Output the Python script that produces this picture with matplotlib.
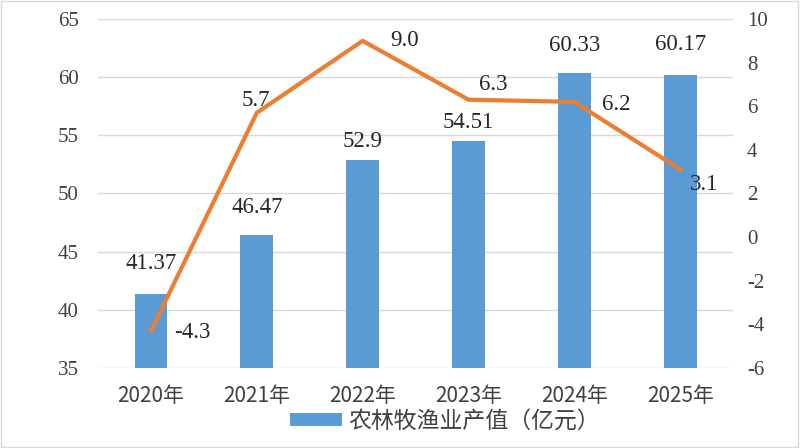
import matplotlib.pyplot as plt
import numpy as np

years = ["2020年", "2021年", "2022年", "2023年", "2024年", "2025年"]
output_value = [41.37, 46.47, 52.9, 54.51, 60.33, 60.17]
growth = [-4.3, 5.7, 9.0, 6.3, 6.2, 3.1]
bar_labels = ["41.37", "46.47", "52.9", "54.51", "60.33", "60.17"]
growth_labels = ["-4.3", "5.7", "9.0", "6.3", "6.2", "3.1"]
# label offsets in points
bar_offsets = [22, 19.5, 13.5, 13.5, 20, 22]
growth_offsets = [(30, -1), (-1, 9), (30, 0), (18, 11), (30, -2), (17, -11)]

bar_color = "#5B9BD5"
line_color = "#ED7D31"
serif = ["Liberation Serif", "Noto Sans CJK SC"]
sans = ["Noto Sans CJK SC", "DejaVu Sans"]
plt.rcParams["axes.unicode_minus"] = False

fig = plt.figure(figsize=(8, 4.48), dpi=100)
ax = fig.add_axes([0.1225, 0.1786, 0.794, 0.779])
x = np.arange(len(years))

ax.bar(x, output_value, width=0.31, color=bar_color, label="农林牧渔业产值（亿元）", zorder=2)
ax.set_ylim(35, 65)
ax.set_yticks(np.arange(35, 66, 5))
ax.set_xlim(-0.5, len(years) - 0.5)
ax.grid(axis="y", color="#D9D9D9", linewidth=1, zorder=0)
for s in ax.spines.values():
    s.set_visible(False)
ax.tick_params(axis="both", length=0)
ax.tick_params(axis="y", pad=14)
ax.tick_params(axis="x", pad=12)
ax.set_xticks(x)
ax.set_xticklabels(years, family=sans, fontsize=15, color="#404040")
for lbl in ax.get_yticklabels():
    lbl.set_family(serif)
    lbl.set_fontsize(15)
    lbl.set_color("#404040")

for xi, v, t, dy in zip(x, output_value, bar_labels, bar_offsets):
    ax.annotate(t, (xi, v), xytext=(0, dy), textcoords="offset points",
                ha="center", va="center", family=serif, fontsize=16.5, color="#262626")

ax2 = ax.twinx()
ax2.plot(x, growth, color=line_color, linewidth=3, zorder=3)
ax2.set_ylim(-6, 10)
ax2.set_yticks(np.arange(-6, 11, 2))
for s in ax2.spines.values():
    s.set_visible(False)
ax2.tick_params(axis="y", length=0, pad=10)
for lbl in ax2.get_yticklabels():
    lbl.set_family(serif)
    lbl.set_fontsize(15)
    lbl.set_color("#404040")

for xi, v, t, off in zip(x, growth, growth_labels, growth_offsets):
    ax2.annotate(t, (xi, v), xytext=off, textcoords="offset points",
                 ha="center", va="center", family=serif, fontsize=16.5, color="#262626")

leg = ax.legend(loc="center", bbox_to_anchor=(0.546, -0.152), frameon=False,
                prop={"family": sans, "size": 16.5}, handlelength=2.3, handleheight=0.55,
                handletextpad=0.25, borderpad=0)
for t in leg.get_texts():
    t.set_color("#404040")

fig.patches.append(plt.Rectangle((0.001, 0.002), 0.997, 0.996, transform=fig.transFigure,
                                 fill=False, edgecolor="#D9D9D9", linewidth=1))

fig.savefig("out.png", dpi=100)
